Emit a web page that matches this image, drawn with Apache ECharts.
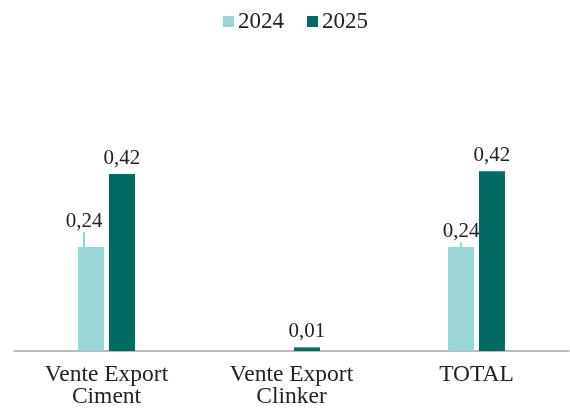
<!DOCTYPE html>
<html>
<head>
<meta charset="utf-8">
<script src="https://cdn.jsdelivr.net/npm/echarts@6/dist/echarts.min.js"></script>
<style>
  html, body { margin: 0; padding: 0; background: #fff; }
  #main { width: 570px; height: 409px; }
</style>
</head>
<body>
<div id="main"></div>
<script>
var categories = ['Vente Export\nCiment', 'Vente Export\nClinker', 'TOTAL'];
var values2024 = [0.244, null, 0.244];
var values2025 = [0.4152, 0.0085, 0.422];

var myChart = echarts.init(document.getElementById('main'));

function fmt(p) {
  return p.value.toFixed(2).replace('.', ',');
}

var option = {
  animation: false,
  textStyle: { fontFamily: 'Liberation Serif' },
  legend: {
    top: 5,
    left: 218,
    itemWidth: 11,
    itemHeight: 11,
    itemGap: 23,
    icon: 'rect',
    textStyle: { fontFamily: 'Liberation Serif', fontSize: 23, color: '#222', padding: [0, 0, 0, -1] },
    data: ['2024', '2025']
  },
  grid: { left: 14, right: 1, top: 138, bottom: 58 },
  xAxis: {
    type: 'category',
    data: categories,
    axisLine: { lineStyle: { color: '#a6a6a6', width: 1.5 } },
    axisTick: { show: false },
    axisLabel: {
      fontFamily: 'Liberation Serif',
      fontSize: 23.5,
      color: '#222',
      lineHeight: 22,
      margin: 13
    }
  },
  yAxis: {
    type: 'value',
    min: 0,
    max: 0.5,
    show: false,
    splitLine: { show: false }
  },
  series: [
    {
      name: '2024',
      type: 'bar',
      data: values2024,
      barWidth: 26,
      barGap: '19%',
      itemStyle: { color: '#9ad6d6' },
      label: {
        show: true,
        position: 'top',
        distance: 5,
        formatter: fmt,
        fontFamily: 'Liberation Serif',
        fontSize: 21,
        color: '#222'
      },
      labelLine: { show: true, lineStyle: { color: '#5fcdd0', width: 1.5 } },
      labelLayout: function (params) {
        if (params.dataIndex === 0) {
          return { dx: -7, dy: -10 };
        }
        return {};
      }
    },
    {
      name: '2025',
      type: 'bar',
      data: values2025,
      barWidth: 26,
      itemStyle: { color: '#006b62' },
      label: {
        show: true,
        position: 'top',
        distance: 5,
        formatter: fmt,
        fontFamily: 'Liberation Serif',
        fontSize: 21,
        color: '#222'
      }
    }
  ]
};

myChart.setOption(option);
</script>
</body>
</html>
